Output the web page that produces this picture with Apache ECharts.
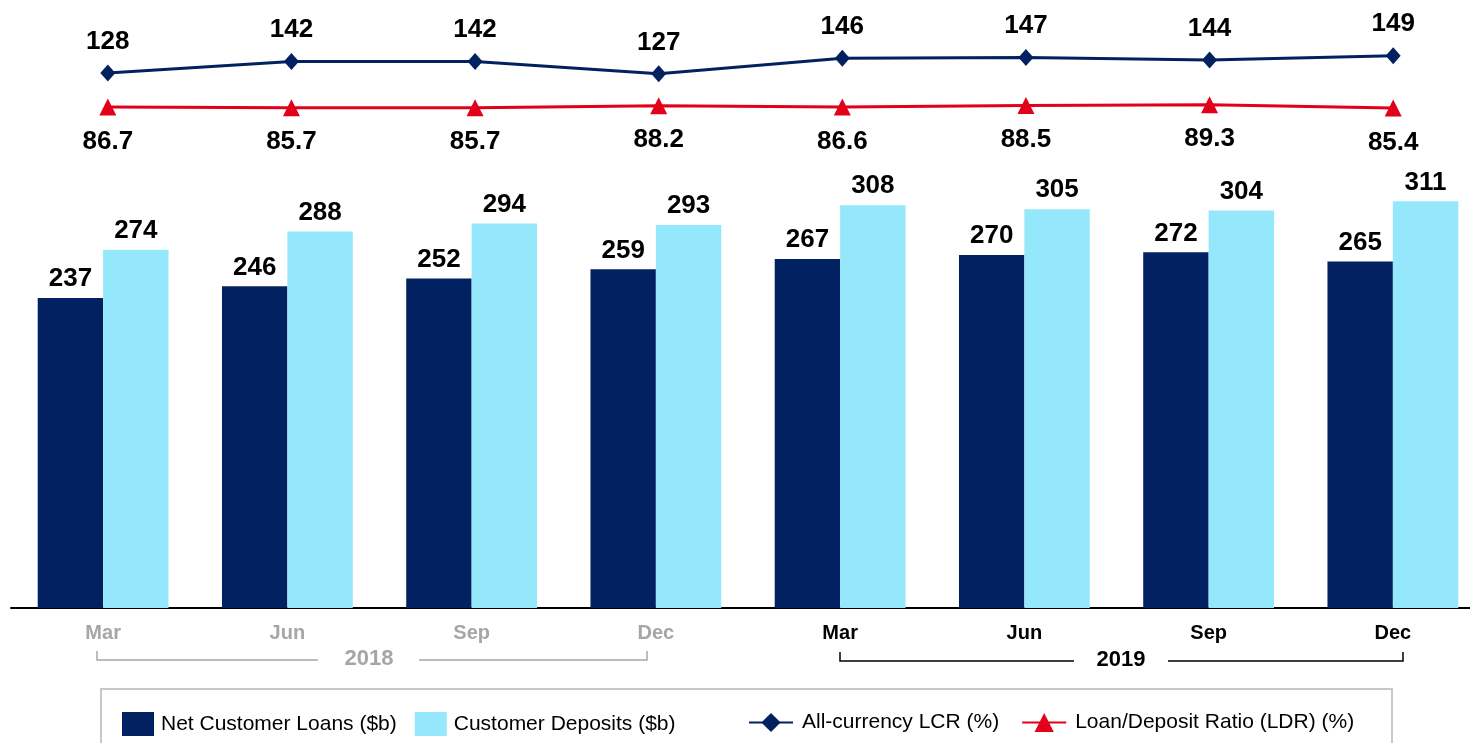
<!DOCTYPE html>
<html>
<head>
<meta charset="utf-8">
<script src="https://cdn.jsdelivr.net/npm/echarts@6/dist/echarts.min.js"></script>
<style>
  html, body { margin: 0; padding: 0; background: #fff; }
  #main { width: 1470px; height: 743px; }
</style>
</head>
<body>
<div id="main"></div>
<script>
// quarter labels (month + year)
var months = ['Mar', 'Jun', 'Sep', 'Dec', 'Mar', 'Jun', 'Sep', 'Dec'];
var years = ['2018', '2018', '2018', '2018', '2019', '2019', '2019', '2019'];
var categories = months.map(function (m, i) { return m + ' ' + years[i]; });

var loans = [237, 246, 252, 259, 267, 270, 272, 265];
var deposits = [274, 288, 294, 293, 308, 305, 304, 311];
var lcr = [128, 142, 142, 127, 146, 147, 144, 149];
var ldr = [86.7, 85.7, 85.7, 88.2, 86.6, 88.5, 89.3, 85.4];

var NAVY = '#022160';
var CYAN = '#95E7FB';
var RED = '#E2001A';
var GREY = '#A6A6A6';
var FONT = "'Liberation Sans', Arial, sans-serif";

var chart = echarts.init(document.getElementById('main'));

var barLabel = { show: true, position: 'top', distance: 6, color: '#000', fontWeight: 'bold', fontSize: 26, fontFamily: FONT };

var option = {
    animation: false,
    textStyle: { fontFamily: FONT },
    grid: [
        { left: 11, right: -15, top: 85, bottom: 135, outerBoundsMode: 'none' },   // bars
        { left: 16, right: -15, top: 14, bottom: 565, outerBoundsMode: 'none' }    // ratio lines
    ],
    xAxis: [
        {
            type: 'category',
            gridIndex: 0,
            data: categories,
            axisTick: { show: false },
            axisLine: { lineStyle: { color: '#000', width: 2 } },
            axisLabel: {
                margin: 15,
                formatter: function (v, i) {
                    var m = v.split(' ')[0];
                    return (i < 4 ? '{g|' : '{k|') + m + '}';
                },
                rich: {
                    g: { color: GREY, fontWeight: 'bold', fontSize: 20, fontFamily: FONT },
                    k: { color: '#000', fontWeight: 'bold', fontSize: 20, fontFamily: FONT }
                }
            }
        },
        {
            type: 'category',
            gridIndex: 1,
            data: categories,
            show: false
        }
    ],
    yAxis: [
        { type: 'value', gridIndex: 0, min: 0, max: 400, show: false, splitLine: { show: false } },
        { type: 'value', gridIndex: 1, min: 0, max: 200, show: false, splitLine: { show: false } }
    ],
    legend: [
        {
            left: 117,
            top: 707,
            icon: 'rect',
            itemWidth: 32,
            itemHeight: 24,
            itemGap: 18,
            data: ['Net Customer Loans ($b)', 'Customer Deposits ($b)'],
            textStyle: { fontSize: 21, color: '#000', fontFamily: FONT, padding: [0, 0, 0, 2] }
        },
        {
            left: 743,
            top: 707,
            itemWidth: 44,
            itemHeight: 24,
            itemGap: 22,
            data: ['All-currency LCR (%)', 'Loan/Deposit Ratio (LDR) (%)'],
            textStyle: { fontSize: 21, color: '#000', fontFamily: FONT, padding: [0, 0, 0, 4] }
        }
    ],
    graphic: [
        // legend frame
        { type: 'rect', shape: { x: 101, y: 689, width: 1291, height: 80 },
          style: { fill: 'none', stroke: '#C8C8C8', lineWidth: 2 }, silent: true },
        // 2018 bracket
        { type: 'polyline', shape: { points: [[97, 651], [97, 660], [318, 660]] },
          style: { stroke: GREY, lineWidth: 1.5, fill: 'none' } },
        { type: 'polyline', shape: { points: [[419, 660], [647, 660], [647, 651]] },
          style: { stroke: GREY, lineWidth: 1.5, fill: 'none' } },
        { type: 'text', x: 369, y: 659,
          style: { text: '2018', fill: GREY, font: 'bold 22px ' + FONT, align: 'center', verticalAlign: 'middle' } },
        // 2019 bracket
        { type: 'polyline', shape: { points: [[840, 652], [840, 661], [1074, 661]] },
          style: { stroke: '#000', lineWidth: 1.5, fill: 'none' } },
        { type: 'polyline', shape: { points: [[1168, 661], [1403, 661], [1403, 652]] },
          style: { stroke: '#000', lineWidth: 1.5, fill: 'none' } },
        { type: 'text', x: 1121, y: 660,
          style: { text: '2019', fill: '#000', font: 'bold 22px ' + FONT, align: 'center', verticalAlign: 'middle' } }
    ],
    series: [
        {
            name: 'Net Customer Loans ($b)',
            type: 'bar',
            xAxisIndex: 0, yAxisIndex: 0,
            data: loans,
            barGap: '0%',
            barCategoryGap: '29%',
            itemStyle: { color: NAVY },
            label: barLabel
        },
        {
            name: 'Customer Deposits ($b)',
            type: 'bar',
            xAxisIndex: 0, yAxisIndex: 0,
            data: deposits,
            barGap: '0%',
            barCategoryGap: '29%',
            itemStyle: { color: CYAN },
            label: barLabel
        },
        {
            name: 'All-currency LCR (%)',
            type: 'line',
            xAxisIndex: 1, yAxisIndex: 1,
            data: lcr,
            symbol: 'diamond',
            symbolSize: [15, 17],
            lineStyle: { color: NAVY, width: 3 },
            itemStyle: { color: NAVY },
            label: { show: true, position: 'top', distance: 10, color: '#000', fontWeight: 'bold', fontSize: 26, fontFamily: FONT }
        },
        {
            name: 'Loan/Deposit Ratio (LDR) (%)',
            type: 'line',
            xAxisIndex: 1, yAxisIndex: 1,
            data: ldr,
            symbol: 'triangle',
            symbolSize: 17,
            lineStyle: { color: RED, width: 3 },
            itemStyle: { color: RED },
            label: { show: true, position: 'bottom', distance: 13, color: '#000', fontWeight: 'bold', fontSize: 26, fontFamily: FONT }
        }
    ]
};

chart.setOption(option);
</script>
</body>
</html>
